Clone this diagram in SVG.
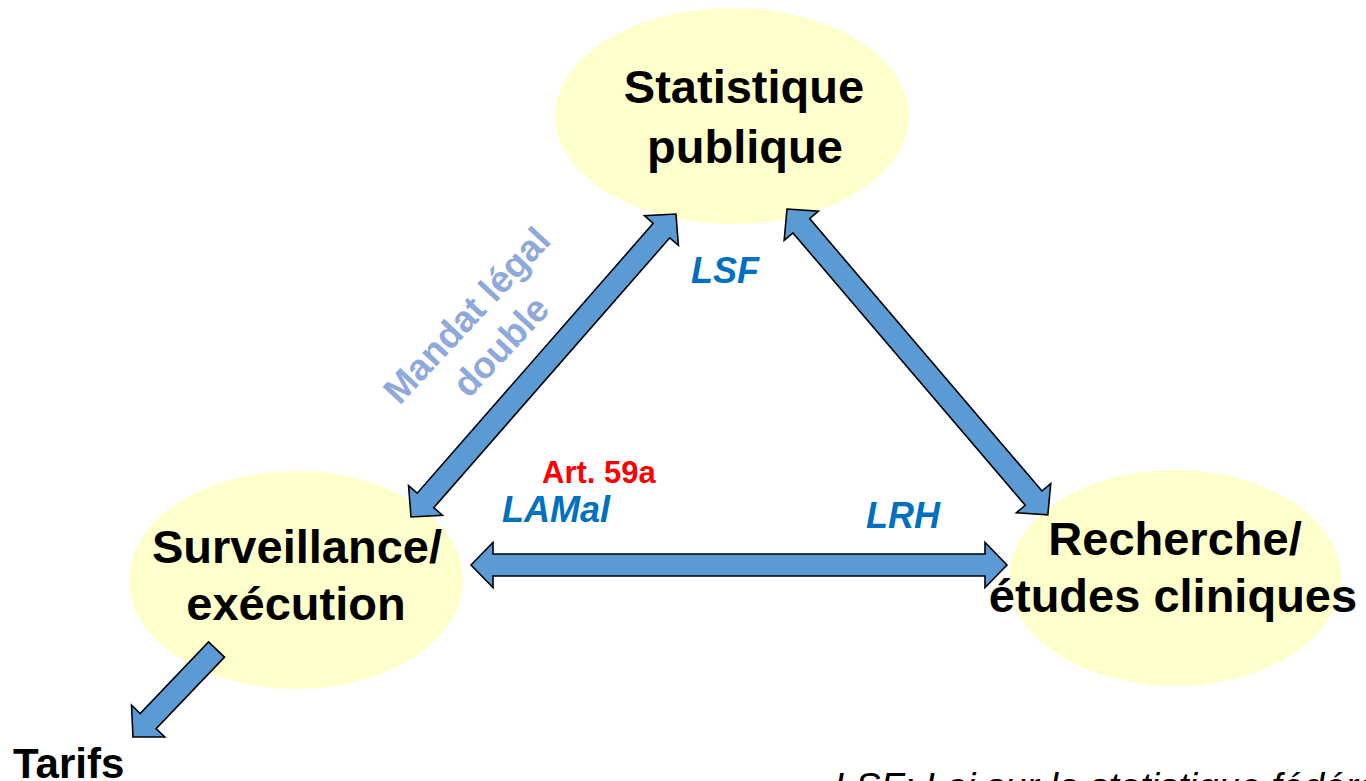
<svg xmlns="http://www.w3.org/2000/svg" width="1366" height="781" viewBox="0 0 1366 781">
<style>
.node ellipse{fill:#FFFFCC;stroke:none}
.nt{font-family:"Liberation Sans",Arial,sans-serif;font-weight:bold;font-size:47px;fill:#000;text-anchor:middle}
.arr{fill:#5B9BD5;stroke:#000;stroke-width:1.6;stroke-linejoin:miter}
.law{font-family:"Liberation Sans",Arial,sans-serif;font-weight:bold;font-style:italic;font-size:36px;fill:#0070C0}
.art{font-family:"Liberation Sans",Arial,sans-serif;font-weight:bold;font-size:31px;fill:#FF0000}
.mand{font-family:"Liberation Sans",Arial,sans-serif;font-weight:bold;font-size:37px;fill:#8EA9DB;text-anchor:middle}
.tar{font-family:"Liberation Sans",Arial,sans-serif;font-weight:bold;font-size:42px;fill:#000}
.note{font-family:"Liberation Sans",Arial,sans-serif;font-style:italic;font-size:38px;fill:#000}
</style>
<rect width="1366" height="781" fill="#fff"/>
<g id="node-statistique" class="node">
<ellipse cx="732" cy="116" rx="177" ry="108"/>
<text class="nt" x="744" y="103">Statistique</text>
<text class="nt" x="745" y="163">publique</text>
</g>
<g id="node-surveillance" class="node">
<ellipse cx="296" cy="580" rx="167" ry="109"/>
<text class="nt" x="297" y="563">Surveillance/</text>
<text class="nt" x="296" y="620">exécution</text>
</g>
<g id="node-recherche" class="node">
<ellipse cx="1175" cy="578" rx="166" ry="108"/>
<text class="nt" x="1175" y="555">Recherche/</text>
<text class="nt" x="1173" y="612">études cliniques</text>
</g>
<g id="connectors">
<path class="arr" transform="translate(471,565)" d="M0,0 L22,-22.5 L22,-11 L514,-11 L514,-22.5 L536,0 L514,22.5 L514,11 L22,11 L22,22.5 Z"/>
<path class="arr" transform="translate(411,517) rotate(-48.83)" d="M0,0 L22,-22.5 L22,-11 L380.5,-11 L380.5,-22.5 L402.5,0 L380.5,22.5 L380.5,11 L22,11 L22,22.5 Z"/>
<path class="arr" transform="translate(787,209) rotate(49.54)" d="M0,0 L22,-22.5 L22,-11 L380,-11 L380,-22.5 L402,0 L380,22.5 L380,11 L22,11 L22,22.5 Z"/>
<path class="arr" transform="translate(216.5,649.5) rotate(133.66)" d="M0,-11 L99,-11 L99,-23 L121,0 L99,23 L99,11 L0,11 Z"/>
</g>
<g id="labels">
<text class="law" x="691" y="283">LSF</text>
<text class="art" x="542" y="483">Art. 59a</text>
<text class="law" x="502" y="522">LAMal</text>
<text class="law" x="866" y="528">LRH</text>
<text class="mand" transform="translate(476,324) rotate(-47)" x="0" y="0">Mandat légal</text>
<text class="mand" transform="translate(510,355) rotate(-47)" x="0" y="0">double</text>
</g>
<g id="node-tarifs">
<text class="tar" x="13" y="778">Tarifs</text>
</g>
<text class="note" x="834" y="800">LSF: Loi sur la statistique fédérale</text>
</svg>
